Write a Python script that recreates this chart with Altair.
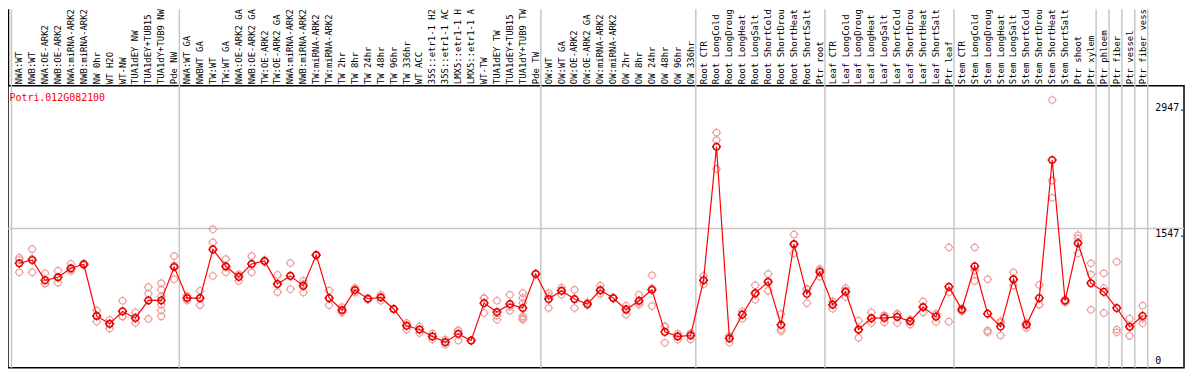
import math
import altair as alt
import pandas as pd

GENE = "Potri.012G082100"

# column labels as they appear in the reference header (cut at 14 characters)
names = [
    "NWA:WT", "NWB:WT", "NWA:OE-ARK2", "NWB:OE-ARK2", "NWA:miRNA-ARK2", "NWB:miRNA-ARK2",
    "NW 0hr", "WT H2O", "WT-NW", "TUA1dEY NW", "TUA1dEY+TUB15", "TUA1dY+TUB9 NW", "Pde NW",
    "NWA:WT GA", "NWBWT GA", "TW:WT", "TW:WT GA", "NWA:OE-ARK2 GA", "NWB:OE-ARK2 GA",
    "TW:OE-ARK2", "TW:OE-ARK2 GA", "NWA:miRNA-ARK2", "NWB:miRNA-ARK2", "TW:miRNA-ARK2",
    "TW:miRNA-ARK2", "TW 2hr", "TW 8hr", "TW 24hr", "TW 48hr", "TW 96hr", "TW 336hr", "WT ACC",
    "35S::etr1-1 H2", "35S::etr1-1 AC", "LMX5::etr1-1 H", "LMX5::etr1-1 A", "WT-TW",
    "TUA1dEY TW", "TUA1dEY+TUB15", "TUA1dY+TUB9 TW", "Pde TW",
    "OW:WT", "OW:WT GA", "OW:OE-ARK2", "OW:OE-ARK2 GA", "OW:miRNA-ARK2", "OW:miRNA-ARK2",
    "OW 2hr", "OW 8hr", "OW 24hr", "OW 48hr", "OW 96hr", "OW 336hr",
    "Root CTR", "Root LongCold", "Root LongDroug", "Root LongHeat", "Root LongSalt",
    "Root ShortCold", "Root ShortDrou", "Root ShortHeat", "Root ShortSalt", "Ptr root",
    "Leaf CTR", "Leaf LongCold", "Leaf LongDroug", "Leaf LongHeat", "Leaf LongSalt",
    "Leaf ShortCold", "Leaf ShortDrou", "Leaf ShortHeat", "Leaf ShortSalt", "Ptr leaf",
    "Stem CTR", "Stem LongCold", "Stem LongDroug", "Stem LongHeat", "Stem LongSalt",
    "Stem ShortCold", "Stem ShortDrou", "Stem ShortHeat", "Stem ShortSalt", "Ptr shoot",
    "Ptr xylem", "Ptr phloem", "Ptr fiber", "Ptr vessel", "Ptr fiber vess",
]

means = [
    1161, 1197, 973, 1006, 1106, 1150, 576, 488, 627, 554, 748, 748, 1120,
    775, 775, 1315, 1128, 1010, 1153, 1186, 932, 1021, 910, 1252, 775, 642, 863, 767, 781,
    653, 466, 425, 348, 285, 377, 303, 719, 620, 708, 664, 1043,
    764, 855, 764, 708, 863, 775, 646, 745, 866, 399, 348, 359,
    973, 2455, 326, 590, 830, 954, 477, 1374, 822, 1065,
    701, 844, 425, 552, 554, 565, 516, 675, 568, 899,
    646, 1128, 601, 458, 984, 477, 775, 2308, 745, 1385, 940,
    844, 664, 455, 576,
]

replicates = [
    [1223, 1061, 1200], [1319, 1061, 1210], [1050, 940, 935], [1079, 947, 1000],
    [1156, 1076, 1090], [1160, 1140, 1150], [638, 513, 580], [532, 436, 495],
    [745, 568, 570], [616, 499, 548], [896, 822, 543], [940, 866, 792, 701, 638, 572],
    [1241, 984, 1135],
    [800, 748, 777], [855, 697, 773], [1539, 1393, 1021], [1208, 1061, 1115],
    [1039, 965, 1025], [1241, 1061, 1157], [1196, 1175, 1188], [1032, 841, 925],
    [1164, 874, 1025], [965, 836, 930], [1250, 1255, 1252], [858, 697, 770],
    [675, 616, 635], [836, 888, 865], [760, 775, 766], [811, 745, 788], [650, 656, 653],
    [499, 425, 474], [388, 428, 459], [381, 314, 349], [314, 256, 285], [417, 303, 411],
    [300, 307, 302], [775, 609, 773], [745, 535, 580], [811, 634, 680],
    [830, 775, 719, 572, 535, 551], [1040, 1046, 1043],
    [830, 664, 798], [892, 811, 862], [866, 664, 762], [726, 700, 698], [914, 822, 853],
    [770, 780, 775], [690, 590, 658], [811, 700, 724], [1028, 686, 884], [461, 278, 458],
    [377, 314, 353], [314, 380, 383],
    [1021, 929, 969], [2613, 2529, 2209], [278, 350, 350], [627, 546, 597], [918, 756, 816],
    [1043, 855, 964], [598, 406, 427], [1481, 1271, 1370], [719, 870, 877], [1098, 1013, 1084],
    [737, 657, 709], [885, 786, 861], [524, 333, 418], [616, 499, 541], [583, 505, 574],
    [601, 499, 595], [535, 480, 533], [737, 616, 672], [598, 510, 596], [1337, 841, 513],
    [627, 650, 661], [1337, 965, 1082], [984, 414, 395], [516, 359, 499], [1061, 914, 977],
    [499, 444, 488], [921, 701, 703], [2975, 2080, 1889], [726, 755, 754], [1473, 1437, 1271],
    [1161, 1039, 645],
    [1050, 885, 609], [1178, 425, 395], [546, 355, 463], [690, 545, 495],
]

group_starts = [0, 13, 41, 53, 63, 73, 84, 85, 86, 87, 88]
axis_values = [0, 1547, 2947]
axis_labels = ["0", "1547.", "2947."]
grid_values = [1547]

# ---- tables built from the arrays above ----
mean_df = pd.DataFrame({"i": list(range(len(means))), "v": means, "name": names})
rep_df = pd.DataFrame(
    [{"i": i, "v": v} for i, rs in enumerate(replicates) for v in rs]
)
sep_df = pd.DataFrame({"b": [g - 0.6 for g in group_starts]})
grid_df = pd.DataFrame({"g": grid_values})
gene_df = pd.DataFrame({"gene": [GENE]})
ylab_df = pd.DataFrame({"v": axis_values, "t": axis_labels})

W, H = 1184, 284
xs = alt.Scale(domain=[-0.87, 90.21], nice=False, zero=False)
ys = alt.Scale(domain=[0, 3134], nice=False, zero=True)
FONT = "DejaVu Sans Mono"

# circle with four small ticks (unit square path)
r = 0.72
pts = [(r * math.cos(2 * math.pi * k / 16), r * math.sin(2 * math.pi * k / 16)) for k in range(16)]
SHAPE = "M" + " L".join(f"{x:.3f},{y:.3f}" for x, y in pts) + " Z"
SHAPE += f" M{r},0 L1,0 M-{r},0 L-1,0 M0,{r} L0,1 M0,-{r} L0,-1"

seps = alt.Chart(sep_df).mark_rule(color="#c6c6c6", strokeWidth=1.5).encode(
    x=alt.X("b:Q", scale=xs, axis=None),
    y=alt.value(-77),
    y2=alt.value(H),
)

# left border of the header band
header_edge = alt.Chart(gene_df).mark_rule(color="black", strokeWidth=1.5).encode(
    x=alt.value(0.5),
    y=alt.value(-77),
    y2=alt.value(0),
)

grid = alt.Chart(grid_df).mark_rule(color="#c6c6c6", strokeWidth=1.5).encode(
    y=alt.Y("g:Q", scale=ys, axis=None),
)

ylab_top = alt.Chart(ylab_df).transform_filter("datum.v > 0").mark_text(
    align="left", baseline="top", font=FONT, fontSize=10, color="black", dy=1
).encode(
    x=alt.value(1155),
    y=alt.Y("v:Q", scale=ys, axis=None),
    text="t:N",
)

ylab_zero = alt.Chart(ylab_df).transform_filter("datum.v == 0").mark_text(
    align="left", baseline="bottom", font=FONT, fontSize=10, color="black", dy=-2
).encode(
    x=alt.value(1155),
    y=alt.Y("v:Q", scale=ys, axis=None),
    text="t:N",
)

labels = alt.Chart(mean_df).mark_text(
    angle=270, align="left", baseline="middle", font=FONT, fontSize=9, color="black"
).encode(
    x=alt.X("i:Q", scale=xs, axis=None),
    y=alt.value(-1.5),
    text="name:N",
)

gene = alt.Chart(gene_df).mark_text(
    align="left", baseline="alphabetic", font=FONT, fontSize=10, color="#ff0000"
).encode(x=alt.value(1.5), y=alt.value(15), text="gene:N")

reps = alt.Chart(rep_df).mark_point(
    shape=SHAPE, filled=False, size=86, stroke="#ee9a9a", strokeWidth=1.1, opacity=1
).encode(
    x=alt.X("i:Q", scale=xs, axis=None),
    y=alt.Y("v:Q", scale=ys, axis=None),
)

line = alt.Chart(mean_df).mark_line(color="#ff0000", strokeWidth=1.2).encode(
    x=alt.X("i:Q", scale=xs, axis=None),
    y=alt.Y("v:Q", scale=ys, axis=None),
)

mean_pts = alt.Chart(mean_df).mark_point(
    shape=SHAPE, filled=False, size=86, stroke="#e60000", strokeWidth=1.5, opacity=1
).encode(
    x=alt.X("i:Q", scale=xs, axis=None),
    y=alt.Y("v:Q", scale=ys, axis=None),
)

chart = (
    alt.layer(seps, header_edge, grid, ylab_top, ylab_zero, labels, gene, reps, line, mean_pts)
    .properties(
        width=W,
        height=H,
        autosize=alt.AutoSizeParams(type="none"),
        padding={"left": 0, "top": 77, "right": 2, "bottom": 1},
        background="white",
    )
    .configure_view(stroke="black", strokeWidth=1.5)
)

chart.save("out.html", embed_options={"renderer": "svg", "actions": False})
